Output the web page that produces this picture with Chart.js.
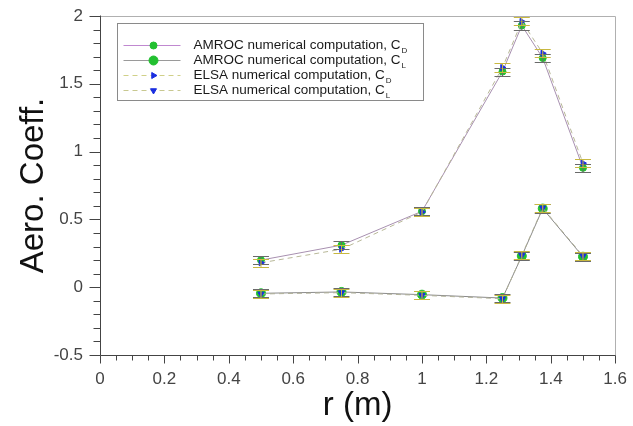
<!DOCTYPE html>
<html lang="en">
<head>
<meta charset="UTF-8">
<title>Aero. Coeff.</title>
<script src="https://cdn.jsdelivr.net/npm/chart.js"></script>
<style>
    html, body { margin: 0; padding: 0; background: #fff; }
    #wrap { width: 633px; height: 426px; position: relative; }
</style>
</head>
<body>
<div id="wrap"><canvas id="aeroChart" width="633" height="426"></canvas></div>
<script>
// r positions (m)
const radii = [0.5, 0.75, 1.0, 1.25, 1.31, 1.375, 1.5];
// AMROC computation
const amrocCd = [0.2, 0.31, 0.56, 1.59, 1.93, 1.69, 0.88];
const amrocCl = [-0.045, -0.035, -0.055, -0.08, 0.23, 0.58, 0.225];
// ELSA computation
const elsaCd = [0.18, 0.28, 0.555, 1.62, 1.96, 1.725, 0.915];
const elsaCl = [-0.05, -0.04, -0.06, -0.085, 0.235, 0.585, 0.23];
// half height of the error bars
const errHalf = 0.03;

const xTicks = [0, 0.2, 0.4, 0.6, 0.8, 1, 1.2, 1.4, 1.6];
const yTicks = [-0.5, 0, 0.5, 1, 1.5, 2];

const FONT = "'Liberation Sans', Arial, sans-serif";

function pts(ys) {
    return radii.map((r, i) => ({ x: r, y: ys[i] }));
}

function isMajor(v, list) {
    return list.some(t => Math.abs(t - v) < 1e-6);
}

// legend entries: label, subscript, line colour, dashed, dataset index
const legendItems = [
    { text: 'AMROC numerical computation, C', sub: 'D', color: '#c088d0', dash: [], ds: 0 },
    { text: 'AMROC numerical computation, C', sub: 'L', color: '#9a9a9a', dash: [], ds: 1 },
    { text: 'ELSA numerical computation, C', sub: 'D', color: '#d0d088', dash: [5, 4], ds: 2 },
    { text: 'ELSA numerical computation, C', sub: 'L', color: '#c8c890', dash: [5, 4], ds: 3 }
];

// axis lines, tick marks, error bar caps and legend box
const extras = {
    id: 'extras',
    afterDatasetsDraw(chart) {
        const ctx = chart.ctx;
        const ys = chart.scales.y;
        ctx.save();
        ctx.lineWidth = 1;
        [0, 1, 2, 3].forEach(di => {
            const meta = chart.getDatasetMeta(di);
            const data = chart.data.datasets[di].data;
            ctx.strokeStyle = di < 2 ? '#6a6a6a' : '#c8b840';
            meta.data.forEach((el, i) => {
                const v = data[i].y;
                const yTop = Math.round(ys.getPixelForValue(v + errHalf)) + 0.5;
                const yBot = Math.round(ys.getPixelForValue(v - errHalf)) + 0.5;
                ctx.beginPath();
                ctx.moveTo(el.x, yTop); ctx.lineTo(el.x, yBot);
                ctx.moveTo(el.x - 8, yTop); ctx.lineTo(el.x + 8, yTop);
                ctx.moveTo(el.x - 8, yBot); ctx.lineTo(el.x + 8, yBot);
                ctx.stroke();
            });
        });
        ctx.restore();
    },
    afterDraw(chart) {
        const ctx = chart.ctx;
        const xs = chart.scales.x, ys = chart.scales.y;
        const L = Math.round(xs.getPixelForValue(0)) + 0.5;
        const R = Math.round(xs.getPixelForValue(1.6)) + 0.5;
        const T = Math.round(ys.getPixelForValue(2)) + 0.5;
        const B = Math.round(ys.getPixelForValue(-0.5)) + 0.5;
        ctx.save();
        ctx.lineWidth = 1;
        // frame top and right
        ctx.strokeStyle = '#b0b0b0';
        ctx.beginPath();
        ctx.moveTo(L, T); ctx.lineTo(R, T); ctx.lineTo(R, B);
        ctx.stroke();
        // axes
        ctx.strokeStyle = '#444';
        ctx.beginPath();
        ctx.moveTo(L, T - 1); ctx.lineTo(L, B); ctx.lineTo(R, B);
        ctx.stroke();
        // tick marks
        ctx.beginPath();
        ys.ticks.forEach(t => {
            const y = Math.round(ys.getPixelForValue(t.value)) + 0.5;
            const len = isMajor(t.value, yTicks) ? 11 : 7;
            ctx.moveTo(L - len, y); ctx.lineTo(L, y);
        });
        xs.ticks.forEach(t => {
            const x = Math.round(xs.getPixelForValue(t.value)) + 0.5;
            const len = isMajor(t.value, xTicks) ? 8 : 5;
            ctx.moveTo(x, B); ctx.lineTo(x, B + len);
        });
        ctx.stroke();

        // legend box
        const bx = L + 17, by = T + 7, bw = 306, bh = 77;
        ctx.fillStyle = '#fff';
        ctx.fillRect(bx, by, bw, bh);
        ctx.strokeStyle = '#8a8a8a';
        ctx.strokeRect(bx, by, bw, bh);

        legendItems.forEach((it, i) => {
            const y = Math.round(by + 21 + i * 15) + 0.5;
            ctx.save();
            ctx.strokeStyle = it.color;
            ctx.setLineDash(it.dash);
            ctx.beginPath();
            ctx.moveTo(bx + 6, y); ctx.lineTo(bx + 63, y);
            ctx.stroke();
            ctx.restore();
            const ds = chart.data.datasets[it.ds];
            ctx.fillStyle = ds.pointBackgroundColor;
            ctx.strokeStyle = ds.pointBorderColor;
            Chart.helpers.drawPoint(ctx, {
                pointStyle: ds.pointStyle,
                radius: ds.pointRadius,
                rotation: ds.rotation || 0,
                borderWidth: 1
            }, bx + 36, y);
            ctx.fillStyle = '#1a1a1a';
            ctx.font = '13.5px ' + FONT;
            ctx.textBaseline = 'middle';
            ctx.textAlign = 'left';
            const tx = bx + 76;
            ctx.fillText(it.text, tx, y);
            const w = ctx.measureText(it.text).width;
            ctx.font = '8px ' + FONT;
            ctx.fillText(it.sub, tx + w + 1, y + 5);
        });
        ctx.restore();
    }
};

const hidden = 'rgba(0,0,0,0)';

new Chart(document.getElementById('aeroChart'), {
    type: 'scatter',
    data: {
        datasets: [
            {
                label: 'AMROC numerical computation, CD',
                data: pts(amrocCd),
                showLine: true,
                borderColor: '#a890b0',
                borderWidth: 1,
                pointStyle: 'circle',
                pointRadius: 3.5,
                pointBackgroundColor: '#22c030',
                pointBorderColor: '#22c030',
                order: 2
            },
            {
                label: 'AMROC numerical computation, CL',
                data: pts(amrocCl),
                showLine: true,
                borderColor: '#8a8a8a',
                borderWidth: 1,
                pointStyle: 'circle',
                pointRadius: 4.5,
                pointBackgroundColor: '#22c030',
                pointBorderColor: '#22c030',
                order: 2
            },
            {
                label: 'ELSA numerical computation, CD',
                data: pts(elsaCd),
                showLine: true,
                borderColor: '#b8b898',
                borderDash: [5, 4],
                borderWidth: 1,
                pointStyle: 'triangle',
                rotation: 90,
                pointRadius: 3.5,
                pointBackgroundColor: '#1a2ee0',
                pointBorderColor: '#1a2ee0',
                order: 1
            },
            {
                label: 'ELSA numerical computation, CL',
                data: pts(elsaCl),
                showLine: true,
                borderColor: '#b0b098',
                borderDash: [5, 4],
                borderWidth: 1,
                pointStyle: 'triangle',
                rotation: 180,
                pointRadius: 3.5,
                pointBackgroundColor: '#1a2ee0',
                pointBorderColor: '#1a2ee0',
                order: 1
            }
        ]
    },
    options: {
        responsive: false,
        animation: false,
        layout: { padding: { top: 16, right: 16, left: 14, bottom: 0 } },
        plugins: { legend: { display: false }, tooltip: { enabled: false } },
        scales: {
            x: {
                type: 'linear',
                min: 0, max: 1.6,
                afterFit(scale) { scale.height = 71; },
                afterBuildTicks(scale) {
                    const t = [];
                    for (let i = 0; i <= 32; i++) t.push({ value: +(i * 0.05).toFixed(2) });
                    scale.ticks = t;
                },
                ticks: {
                    autoSkip: false,
                    maxRotation: 0,
                    color: '#444',
                    font: { size: 17, family: FONT },
                    padding: 6,
                    callback: v => isMajor(v, xTicks) ? String(+v.toFixed(1)) : ''
                },
                grid: {
                    drawOnChartArea: false,
                    drawTicks: true,
                    tickLength: 8,
                    color: hidden
                },
                border: { display: false },
                title: {
                    display: true,
                    text: 'r (m)',
                    color: '#111',
                    font: { size: 33, family: FONT },
                    padding: { top: 0, bottom: 0 }
                }
            },
            y: {
                type: 'linear',
                min: -0.5, max: 2,
                afterFit(scale) { scale.width = 86; },
                afterBuildTicks(scale) {
                    const t = [];
                    for (let i = 0; i <= 25; i++) t.push({ value: +(-0.5 + i * 0.1).toFixed(1) });
                    scale.ticks = t;
                },
                ticks: {
                    autoSkip: false,
                    color: '#444',
                    font: { size: 17, family: FONT },
                    padding: 3,
                    callback: v => isMajor(v, yTicks) ? String(+v.toFixed(1)) : ''
                },
                grid: {
                    drawOnChartArea: false,
                    drawTicks: true,
                    tickLength: 14,
                    color: hidden
                },
                border: { display: false },
                title: {
                    display: true,
                    text: 'Aero. Coeff.',
                    color: '#111',
                    font: { size: 33, family: FONT },
                    padding: { top: 0, bottom: 0 }
                }
            }
        }
    },
    plugins: [extras]
});
</script>
</body>
</html>
